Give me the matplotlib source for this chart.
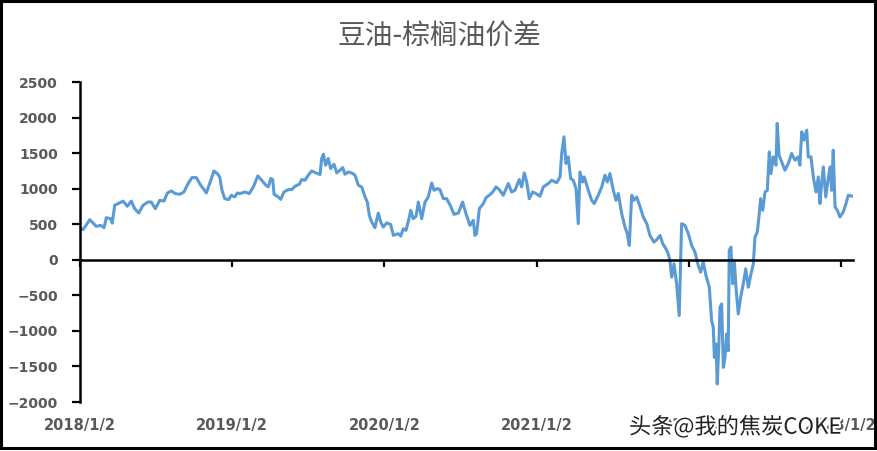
import matplotlib
matplotlib.use("Agg")
import matplotlib.pyplot as plt
import matplotlib.patheffects as pe
from matplotlib.patches import Rectangle

title = "豆油-棕榈油价差"
year_labels = ["2018/1/2", "2019/1/2", "2020/1/2", "2021/1/2", "2022/1/2", "2023/1/2"]
watermark = "头条@我的焦炭COKE"

# years since 2018/1/2
t = [0.000, 0.020, 0.064, 0.107, 0.136, 0.158, 0.173, 0.202, 0.212, 0.228,
     0.261, 0.283, 0.311, 0.337, 0.359, 0.386, 0.414, 0.447, 0.468, 0.495,
     0.524, 0.552, 0.574, 0.600, 0.626, 0.655, 0.683, 0.710, 0.736, 0.764,
     0.793, 0.815, 0.830, 0.852, 0.880, 0.902, 0.918, 0.933, 0.951, 0.977,
     0.994, 1.016, 1.034,
     1.051, 1.084, 1.112, 1.139, 1.168, 1.194, 1.222, 1.237, 1.253, 1.266,
     1.275, 1.303, 1.319, 1.340, 1.369, 1.391, 1.413, 1.441, 1.457, 1.478,
     1.500, 1.522, 1.551, 1.577, 1.588, 1.599, 1.614, 1.631, 1.647, 1.669,
     1.687, 1.708, 1.726, 1.741, 1.763, 1.792, 1.807, 1.829, 1.851, 1.873,
     1.888, 1.901, 1.917, 1.938, 1.960, 1.976,
     1.993, 2.015, 2.041, 2.059, 2.091, 2.107, 2.124, 2.142, 2.164, 2.173,
     2.190, 2.208, 2.223, 2.245, 2.267, 2.288, 2.311, 2.326, 2.348, 2.365,
     2.387, 2.409, 2.436, 2.457, 2.486, 2.514, 2.536, 2.562, 2.584, 2.595,
     2.606, 2.624, 2.650, 2.668, 2.689, 2.712, 2.733, 2.755, 2.781, 2.814,
     2.836, 2.858, 2.886, 2.902, 2.919, 2.935, 2.952, 2.974, 2.996,
     3.022, 3.044, 3.077, 3.099, 3.132, 3.154, 3.165, 3.180, 3.193, 3.208,
     3.224, 3.241, 3.259, 3.274, 3.285, 3.303, 3.313, 3.340, 3.362, 3.379,
     3.405, 3.428, 3.449, 3.465, 3.482, 3.504, 3.522, 3.537, 3.559, 3.581,
     3.596, 3.609, 3.625, 3.640, 3.658, 3.680, 3.701, 3.724, 3.745, 3.771,
     3.789, 3.811, 3.829, 3.850, 3.865, 3.876, 3.888, 3.903, 3.920, 3.937,
     3.953, 3.975, 3.997, 4.019, 4.041, 4.062, 4.078, 4.095, 4.113, 4.135,
     4.150, 4.161, 4.168, 4.179, 4.187, 4.198, 4.205, 4.216, 4.227, 4.238,
     4.249, 4.259, 4.266, 4.277, 4.288, 4.299, 4.310, 4.325, 4.341, 4.358,
     4.374, 4.391, 4.409, 4.424, 4.435, 4.450, 4.461, 4.472, 4.486, 4.501,
     4.516, 4.529, 4.540, 4.555, 4.573, 4.581, 4.593, 4.610, 4.632, 4.654,
     4.676, 4.698, 4.719, 4.730, 4.742, 4.757, 4.775, 4.785, 4.803, 4.818,
     4.836, 4.851, 4.862, 4.873, 4.884, 4.900, 4.913, 4.928, 4.939, 4.949,
     4.961, 4.976, 4.993, 5.015, 5.033, 5.048, 5.077]

spread = [451, 423, 564, 470, 484, 451, 592, 578, 516, 766,
          801, 825, 752, 825, 719, 657, 766, 812, 812, 719,
          836, 826, 939, 967, 931, 921, 953, 1072, 1156, 1156,
          1048, 987, 939, 1072, 1249, 1213, 1165, 977, 860, 846,
          907, 883, 939,
          931, 953, 931, 1024, 1179, 1118, 1048, 1024, 1142, 1128,
          921, 883, 850, 953, 987, 987, 1034, 1062, 1128, 1118,
          1189, 1249, 1221, 1199, 1424, 1485, 1330, 1424, 1283, 1344,
          1221, 1259, 1297, 1203, 1235, 1213, 1189, 1048, 1024, 883,
          812, 625, 530, 451, 657, 530,
          460, 519, 498, 343, 367, 333, 437, 413, 601, 695,
          578, 611, 812, 578, 812, 883, 1080, 977, 1001, 987,
          860, 860, 752, 639, 657, 812, 649, 484, 554, 343,
          367, 719, 790, 874, 907, 953, 1024, 987, 907, 1072,
          953, 977, 1128, 1024, 1221, 1094, 860, 953, 931,
          893, 1024, 1072, 1118, 1083, 1165, 1495, 1729, 1354, 1447,
          1142, 1118, 1001, 508, 1235, 1094, 1165, 977, 836, 790,
          907, 1024, 1189, 1094, 1213, 977, 836, 931, 649, 460,
          367, 202, 907, 836, 883, 744, 601, 508, 343, 248,
          282, 343, 226, 155, 85, -10, -245, -56, -338, -785,
          508, 484, 367, 202, 107, -80, -175, -34, -221, -386,
          -856, -950, -1373, -1184, -1748, -1184, -668, -621, -1514, -1373,
          -1043, -1279, 131, 178, -338, -10, -386, -761, -527, -338,
          -127, -386, -197, -56, 319, 389, 603, 860, 695, 953,
          977, 1517, 1213, 1447, 1330, 1918, 1471, 1377, 1259, 1354,
          1495, 1400, 1447, 1330, 1799, 1682, 1823, 1447, 1447, 1165,
          953, 1165, 790, 1072, 1306, 883, 1094, 1306, 977, 1541,
          744, 695, 603, 671, 790, 907, 893]

plt.rcParams['font.family'] = ['DejaVu Sans']

fig = plt.figure(figsize=(8.77, 4.51), dpi=100)
ax = fig.add_axes([80 / 877, 49 / 451, 773 / 877, 320 / 451])

ax.plot(t, spread, color="#5B9BD5", lw=2.2, solid_joinstyle="round")

ax.set_xlim(0, 5.079)
ax.set_ylim(-2000, 2500)
ax.set_yticks(range(-2000, 2501, 500))
ax.set_xticks(range(len(year_labels)))
ax.set_xticklabels([])

for side in ["top", "right"]:
    ax.spines[side].set_visible(False)
ax.spines["bottom"].set_position(("data", 0))
ax.spines["left"].set_linewidth(1.8)
ax.spines["bottom"].set_linewidth(1.8)

ax.tick_params(axis="y", direction="out", length=6, width=1.6, pad=10,
               labelsize=10, labelcolor="#595959")
ax.tick_params(axis="x", direction="out", length=5, width=1.6)
for lbl in ax.get_yticklabels():
    lbl.set_fontweight("bold")

# excel puts the date labels at the bottom of the plot area
for i, lab in enumerate(year_labels):
    ax.text(i, -0.072, lab, transform=ax.get_xaxis_transform(), ha="center",
            va="center", fontsize=10.5, fontweight="bold", color="#595959",
            clip_on=False)

fig.text(439 / 877, 1 - 36 / 451, title, ha="center", va="center", fontsize=20,
         color="#595959", family=["Noto Sans CJK SC", "DejaVu Sans"])

fig.text(629 / 877, 1 - 427 / 451, watermark, ha="left", va="center", fontsize=16,
         color="#222222", family=["Noto Sans CJK SC", "DejaVu Sans"],
         path_effects=[pe.withStroke(linewidth=3, foreground="white")])

fig.add_artist(Rectangle((0.0017, 0.0066), 0.996, 0.991, transform=fig.transFigure,
                         fill=False, lw=2.2, ec="black"))

fig.savefig("out.png", dpi=100)
